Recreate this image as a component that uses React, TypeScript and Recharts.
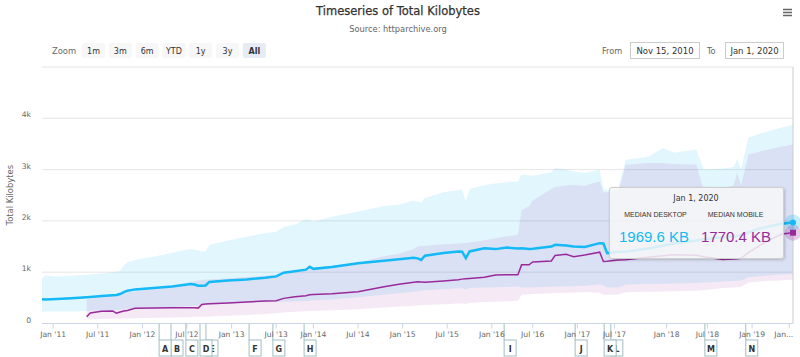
import React from 'react';
import {
  ComposedChart,
  Area,
  Line,
  Scatter,
  XAxis,
  YAxis,
  CartesianGrid,
  ReferenceLine,
} from 'recharts';

// crawl index on the ordinal time axis (one step = one crawl)
const CRAWL = [
  0, 1, 4, 8, 12, 13, 16, 19, 20, 21, 22, 23, 25, 30, 35, 40, 41, 42, 43, 44, 45,
  50, 55, 60, 63, 65, 68, 71, 72, 73, 78, 85, 92, 96, 100, 101, 102, 103, 108, 112,
  113, 114, 115, 119, 122, 125, 128, 129, 131, 132, 137, 138, 141, 143, 146, 150,
  151, 152, 155, 157, 163, 167, 170, 176, 178, 183, 186, 187, 188, 190, 193, 196,
  199, 202,
];

const DESKTOP_MEDIAN = [
  473, 468, 476, 492, 512, 518, 538, 552, 555, 575, 610, 640, 665, 690, 720, 770, 760, 735, 735, 742, 810,
  840, 860, 890, 918, 990, 1020, 1050, 1105, 1065, 1100, 1175, 1225, 1254, 1282, 1270, 1240, 1320, 1375, 1405,
  1400, 1273, 1405, 1465, 1450, 1480, 1460, 1465, 1450, 1455, 1500, 1533, 1520, 1500, 1490, 1566,
  1560, 1371, 1400, 1400, 1460, 1520, 1560, 1620, 1640, 1680, 1700, 1710, 1720, 1780, 1850, 1900,
  1945, 1969.6,
];
const DESKTOP_LOW = [
  230, 232, 232, 235, 245, 248, 255, 262, 265, 268, 272, 275, 280, 295, 315, 340, 345, 350, 355, 360, 365,
  385, 400, 415, 420, 425, 430, 440, 445, 448, 470, 510, 560, 590, 620, 630, 640, 648, 670, 685,
  688, 665, 690, 700, 705, 710, 720, 700, 700, 705, 715, 720, 725, 725, 735, 760,
  740, 700, 700, 760, 770, 775, 780, 790, 800, 820, 830, 835, 840, 900, 920, 940,
  955, 965,
];
const DESKTOP_HIGH = [
  883, 935, 915, 930, 950, 960, 975, 1000, 1010, 1030, 1130, 1200, 1240, 1300, 1380, 1450, 1440, 1430, 1400, 1410, 1530,
  1620, 1690, 1760, 1790, 1880, 1930, 2030, 2020, 1990, 2080, 2185, 2290, 2314, 2400, 2380, 2360, 2445, 2560, 2600,
  2607, 2379, 2621, 2700, 2730, 2755, 2770, 2900, 2890, 2880, 2950, 3031, 3000, 2965, 2933, 2998,
  2620, 2600, 2610, 3190, 3250, 3420, 3330, 3390, 3000, 3020, 3050, 3200, 3000, 3620, 3700, 3760,
  3820, 3870,
];

const MOBILE_MEDIAN = [
  null, null, null, null, 133, 205, 238, 245, 200, 225, 242, 252, 295, 300, 305, 305, 305, 300, 372, 380, 385,
  400, 420, 438, 445, 490, 520, 540, 560, 565, 580, 620, 715, 765, 805, 815, 810, 805, 830, 855,
  865, 870, 875, 900, 945, 948, 948, 1143, 1145, 1200, 1220, 1325, 1350, 1300, 1335, 1390,
  1210, 1215, 1240, 1245, 1290, 1320, 1340, 1330, 1300, 1250, 1255, 1262, 1270, 1380, 1520, 1640,
  1745, 1770.4,
];
const MOBILE_LOW = [
  null, null, null, null, 82, 84, 88, 92, 92, 94, 96, 98, 102, 110, 118, 128, 130, 130, 132, 134, 136,
  150, 165, 185, 200, 215, 228, 238, 242, 245, 258, 280, 310, 330, 345, 350, 355, 360, 375, 390,
  395, 380, 400, 420, 425, 435, 445, 560, 570, 575, 590, 595, 600, 605, 615, 600,
  560, 560, 565, 610, 620, 625, 630, 640, 650, 690, 700, 705, 710, 800, 820, 835,
  845, 855,
];
const MOBILE_HIGH = [
  null, null, null, null, 470, 480, 520, 560, 570, 590, 600, 610, 630, 680, 740, 810, 830, 840, 850, 855, 860,
  880, 905, 930, 950, 975, 1000, 1040, 1060, 1080, 1130, 1190, 1310, 1360, 1450, 1500, 1510, 1515, 1545, 1560,
  1565, 1570, 1580, 1625, 1660, 1700, 1728, 2217, 2280, 2400, 2620, 2660, 2690, 2700, 2686, 2770,
  2560, 2560, 2560, 3096, 3128, 3130, 3110, 3096, 2600, 2650, 2680, 2950, 2680, 3290, 3350, 3400,
  3450, 3490,
];

const TICK_POS = [3, 15, 27, 39, 51, 63, 73, 85, 97, 109, 121, 132, 144, 154, 168, 179, 191, 201];
const TICK_LABELS = [
  "Jan '11", "Jul '11", "Jan '12", "Jul '12", "Jan '13", "Jul '13", "Jan '14", "Jul '14", "Jan '15",
  "Jul '15", "Jan '16", "Jul '16", "Jan '17", "Jul '17", "Jan '18", "Jul '18", "Jan '19", 'Jan...',
];
const Y_TICKS = [0, 1000, 2000, 3000, 4000, 5000];

const FLAG_LETTERS = ['A', 'B', 'C', 'D', 'E', 'F', 'G', 'H', 'I', 'J', 'K', 'L', 'M', 'N'];
const FLAG_POS = [31.5, 34.7, 38.7, 42.5, 44.1, 55.7, 62.1, 70.5, 124.3, 143.4, 151.2, 153.0, 178.3, 189.3];

const ZOOM_BUTTONS = ['1m', '3m', '6m', 'YTD', '1y', '3y', 'All'];
const FROM_DATE = 'Nov 15, 2010';
const TO_DATE = 'Jan 1, 2020';
const LAST_DATE = 'Jan 1, 2020';

const DESKTOP = '#14b9f5';
const MOBILE = '#9a2a9c';
const FLAG_STROKE = '#a3bec4';
const FONT = '"DejaVu Sans", sans-serif';

const data = CRAWL.map((t, i) => ({
  t,
  desktop: DESKTOP_MEDIAN[i],
  desktopRange: [DESKTOP_LOW[i], DESKTOP_HIGH[i]],
  mobile: MOBILE_MEDIAN[i],
  mobileRange: MOBILE_LOW[i] == null ? null : [MOBILE_LOW[i], MOBILE_HIGH[i]],
}));
const LAST = data.length - 1;
const LAST_T = CRAWL[LAST];

// later flags drawn first so earlier ones sit on top (D over E, K over L)
const flagData = FLAG_POS.map((t, i) => ({ t, fy: 0, letter: FLAG_LETTERS[i] })).reverse();

const XTick = (props: any) => {
  const { x, y, payload } = props;
  const i = TICK_POS.indexOf(payload.value);
  const last = i === TICK_POS.length - 1;
  return (
    <text
      x={last ? x + 4 : x}
      y={y + 6}
      textAnchor={last ? 'end' : 'middle'}
      fontSize={7.6}
      fill="#666"
      fontFamily={FONT}
    >
      {TICK_LABELS[i]}
    </text>
  );
};

const YTick = (props: any) => {
  const { x, y, payload } = props;
  if (payload.value === 5000) return <g />;
  const label = payload.value === 0 ? '0' : `${payload.value / 1000}k`;
  return (
    <text x={x} y={y - 1} textAnchor="end" fontSize={7.6} fill="#666" fontFamily={FONT}>
      {label}
    </text>
  );
};

const Flag = (props: any) => {
  const { cx, cy, payload } = props;
  return (
    <g>
      <line x1={cx} y1={cy} x2={cx} y2={cy + 16.5} stroke={FLAG_STROKE} />
      <rect x={cx} y={cy + 16.5} width={12} height={16} fill="#fff" stroke={FLAG_STROKE} />
      <text x={cx + 6} y={cy + 28} textAnchor="middle" fontSize={8} fontWeight="bold" fill="#333" fontFamily={FONT}>
        {payload.letter}
      </text>
    </g>
  );
};

// hover markers on the last point (the one the tooltip box describes)
const desktopEnd = (p: any) => {
  if (p.index !== LAST) return <g key={`d${p.index}`} />;
  return (
    <g key="dEnd">
      <circle cx={p.cx} cy={p.cy} r={8} fill={DESKTOP} fillOpacity={0.25} />
      <circle cx={p.cx} cy={p.cy} r={3} fill={DESKTOP} />
    </g>
  );
};

const mobileEnd = (p: any) => {
  if (p.index !== LAST) return <g key={`m${p.index}`} />;
  return (
    <g key="mEnd">
      <circle cx={p.cx} cy={p.cy} r={8} fill={MOBILE} fillOpacity={0.25} />
      <rect x={p.cx - 3} y={p.cy - 3} width={6} height={6} fill={MOBILE} />
    </g>
  );
};

const TipBox = () => {
  const d = DESKTOP_MEDIAN[LAST] as number;
  const m = MOBILE_MEDIAN[LAST] as number;
  return (
    <div
      style={{
        position: 'absolute',
        left: 609,
        top: 187,
        width: 175,
        height: 72,
        boxSizing: 'border-box',
        background: 'rgba(247,247,247,0.85)',
        border: '1px solid #cfcfcf',
        borderRadius: 3,
        boxShadow: '1px 1px 3px rgba(0,0,0,0.2)',
        pointerEvents: 'none',
      }}
    >
      <svg width={175} height={72} style={{ position: 'absolute', left: -1, top: -1 }}>
        <text x={87} y={14} textAnchor="middle" fontSize={8} fill="#333" fontFamily={FONT}>
          {LAST_DATE}
        </text>
        <text x={46.5} y={30.3} textAnchor="middle" fontSize={7} fill="#333" fontFamily="Liberation Sans, Arial">
          MEDIAN DESKTOP
        </text>
        <text x={126.5} y={30.3} textAnchor="middle" fontSize={7} fill="#333" fontFamily="Liberation Sans, Arial">
          MEDIAN MOBILE
        </text>
        <text x={45} y={54.7} textAnchor="middle" fontSize={15} fill={DESKTOP} fontFamily="Liberation Sans, Arial">
          {d.toFixed(1)} KB
        </text>
        <text x={127} y={54.7} textAnchor="middle" fontSize={15} fill={MOBILE} fontFamily="Liberation Sans, Arial">
          {m.toFixed(1)} KB
        </text>
      </svg>
    </div>
  );
};

const Header = () => (
  <svg
    width={800}
    height={64}
    style={{ position: 'absolute', left: 0, top: 0, pointerEvents: 'none' }}
    fontFamily={FONT}
  >
    <text x={398} y={15} textAnchor="middle" fontSize={11.5} fill="#333" stroke="#333" strokeWidth={0.25}>
      Timeseries of Total Kilobytes
    </text>
    <text x={398} y={31.5} textAnchor="middle" fontSize={8.3} fill="#666">
      Source: httparchive.org
    </text>
    <text x={52} y={54} fontSize={8.4} fill="#666">
      Zoom
    </text>
    {ZOOM_BUTTONS.map((b, i) => {
      const x = 82 + i * 26.8;
      const sel = b === 'All';
      return (
        <g key={b}>
          <rect x={x} y={43} width={23} height={15} rx={2} fill={sel ? '#e6ebf5' : '#f7f7f7'} />
          <text x={x + 11.5} y={54} textAnchor="middle" fontSize={8} fontWeight={sel ? 'bold' : 'normal'} fill="#333">
            {b}
          </text>
        </g>
      );
    })}
    <text x={602} y={54} fontSize={8.2} fill="#666">
      From
    </text>
    <rect x={630.5} y={42.5} width={69} height={16} fill="#fff" stroke="#cccccc" />
    <text x={665} y={54} textAnchor="middle" fontSize={8.5} fill="#333">
      {FROM_DATE}
    </text>
    <text x={707} y={54} fontSize={8.2} fill="#666">
      To
    </text>
    <rect x={725.5} y={42.5} width={58} height={16} fill="#fff" stroke="#cccccc" />
    <text x={754.5} y={54} textAnchor="middle" fontSize={8.5} fill="#333">
      {TO_DATE}
    </text>
    <path d="M783 9.5 H792 M783 12.5 H792 M783 15.5 H792" stroke="#666" strokeWidth={1.4} />
  </svg>
);

export default function App() {
  return (
    <div style={{ position: 'absolute', left: 0, top: 0, width: 800, height: 357, background: '#fff' }}>
      <ComposedChart width={800} height={357} data={data} margin={{ top: 67, right: 7, bottom: 0, left: 0 }}>
        <CartesianGrid vertical={false} stroke="#e6e6e6" />
        <XAxis
          dataKey="t"
          type="number"
          domain={[0, 202]}
          ticks={TICK_POS}
          interval={0}
          tick={XTick}
          tickSize={5}
          tickMargin={2}
          tickLine={{ stroke: '#ccd6eb' }}
          axisLine={{ stroke: '#ccd6eb' }}
          height={33.5}
        />
        <YAxis
          type="number"
          domain={[0, 5000]}
          ticks={Y_TICKS}
          tick={YTick}
          width={42}
          tickSize={0}
          tickMargin={11}
          axisLine={false}
          tickLine={false}
          label={{
            value: 'Total Kilobytes',
            angle: -90,
            position: 'insideLeft',
            offset: 10,
            style: { textAnchor: 'middle', fontSize: 8.4, fill: '#666', fontFamily: FONT },
          }}
        />
        <ReferenceLine x={LAST_T} stroke="#cccccc" />
        <Area
          dataKey="desktopRange"
          stroke="none"
          fill={DESKTOP}
          fillOpacity={0.12}
          isAnimationActive={false}
          activeDot={false}
          dot={false}
        />
        <Area
          dataKey="mobileRange"
          stroke="none"
          fill={MOBILE}
          fillOpacity={0.1}
          isAnimationActive={false}
          activeDot={false}
          dot={false}
        />
        <Line
          dataKey="mobile"
          stroke={MOBILE}
          strokeWidth={1.5}
          dot={mobileEnd}
          activeDot={false}
          isAnimationActive={false}
        />
        <Line
          dataKey="desktop"
          stroke={DESKTOP}
          strokeWidth={2.5}
          dot={desktopEnd}
          activeDot={false}
          isAnimationActive={false}
        />
        <Scatter data={flagData} dataKey="fy" shape={Flag} isAnimationActive={false} />
      </ComposedChart>
      <Header />
      <TipBox />
    </div>
  );
}
